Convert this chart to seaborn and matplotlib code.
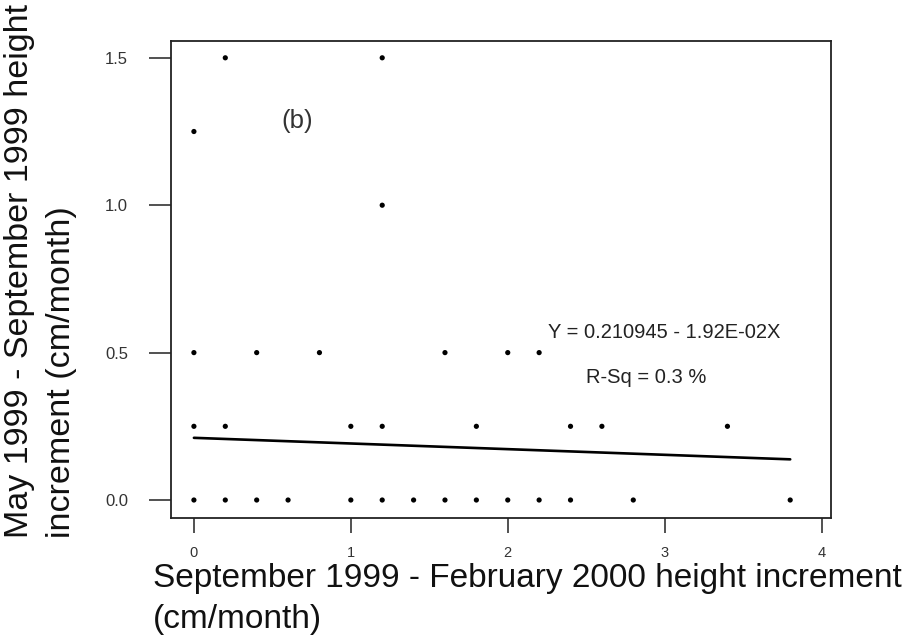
import numpy as np
import pandas as pd
import seaborn as sns
import matplotlib
matplotlib.use("Agg")
import matplotlib.pyplot as plt

# Height increments (cm/month): Sep 1999 - Feb 2000 (x) vs May 1999 - Sep 1999 (y)
x_sep_feb = [0.2, 1.2,
             0.0,
             1.2,
             0.0, 0.4, 0.8, 1.6, 2.0, 2.2,
             0.0, 0.2, 1.0, 1.2, 1.8, 2.4, 2.6, 3.4,
             0.0, 0.2, 0.4, 0.6, 1.0, 1.2, 1.4, 1.6, 1.8, 2.0, 2.2, 2.4, 2.8, 3.8]
y_may_sep = [1.5, 1.5,
             1.25,
             1.0,
             0.5, 0.5, 0.5, 0.5, 0.5, 0.5,
             0.25, 0.25, 0.25, 0.25, 0.25, 0.25, 0.25, 0.25,
             0.0, 0.0, 0.0, 0.0, 0.0, 0.0, 0.0, 0.0, 0.0, 0.0, 0.0, 0.0, 0.0, 0.0]

# Fitted regression reported on the chart
intercept = 0.210945
slope = -1.92e-02
r_sq_pct = 0.3

x_ticks = [0, 1, 2, 3, 4]
y_ticks = [0.0, 0.5, 1.0, 1.5]

sns.set_theme(style="white")
plt.rcParams["font.family"] = ["Liberation Sans", "DejaVu Sans"]

df = pd.DataFrame({"x": x_sep_feb, "y": y_may_sep})

fig = plt.figure(figsize=(9.09, 6.43), dpi=100)
ax = fig.add_axes([171 / 909, 1 - 518 / 643, 660 / 909, 477 / 643])

sns.scatterplot(data=df, x="x", y="y", ax=ax, color="black", s=14,
                edgecolor="none", zorder=3)

x_fit = np.array([min(x_sep_feb), max(x_sep_feb)])
sns.lineplot(x=x_fit, y=intercept + slope * x_fit, ax=ax, color="black",
             linewidth=1.9, zorder=2)

ax.set_xlim(-0.146, 4.06)
ax.set_ylim(-0.061, 1.557)
ax.set_xticks(x_ticks)
ax.set_xticklabels([str(t) for t in x_ticks])
ax.set_yticks(y_ticks)
ax.set_yticklabels([f"{t:.1f}" for t in y_ticks])

for side in ["left", "right", "top", "bottom"]:
    ax.spines[side].set_visible(True)
    ax.spines[side].set_color("#222222")
    ax.spines[side].set_linewidth(1.3)

ax.tick_params(axis="y", which="major", direction="out", length=16, width=1.2,
               color="#333333", labelsize=12, labelcolor="#333333", pad=15,
               left=True)
ax.tick_params(axis="x", which="major", direction="out", length=11, width=1.2,
               color="#333333", labelsize=10.5, labelcolor="#333333", pad=9,
               bottom=True)

ax.set_xlabel("")
ax.set_ylabel("")

ax.text(0.66, 1.285, "(b)", fontsize=18.5, color="#333333",
        ha="center", va="center")
ax.text(3.0, 0.567, f"Y = {intercept} - {abs(slope):.2E}X",
        fontsize=14.5, color="#222222", ha="center", va="center")
ax.text(2.88, 0.417, f"R-Sq = {r_sq_pct} %", fontsize=14.5, color="#222222",
        ha="center", va="center")

fig.text(153 / 909, 1 - 563 / 643,
         "September 1999 - February 2000 height increment\n(cm/month)",
         fontsize=24, color="#111111", ha="left", va="top",
         multialignment="left", linespacing=1.4)
fig.text(4 / 909, 1 - 538 / 643,
         "May 1999 - September 1999 height\nincrement (cm/month)",
         fontsize=24.5, color="#111111", rotation=90, ha="left", va="bottom",
         multialignment="left", linespacing=1.45)

fig.savefig("out.png", dpi=100)
